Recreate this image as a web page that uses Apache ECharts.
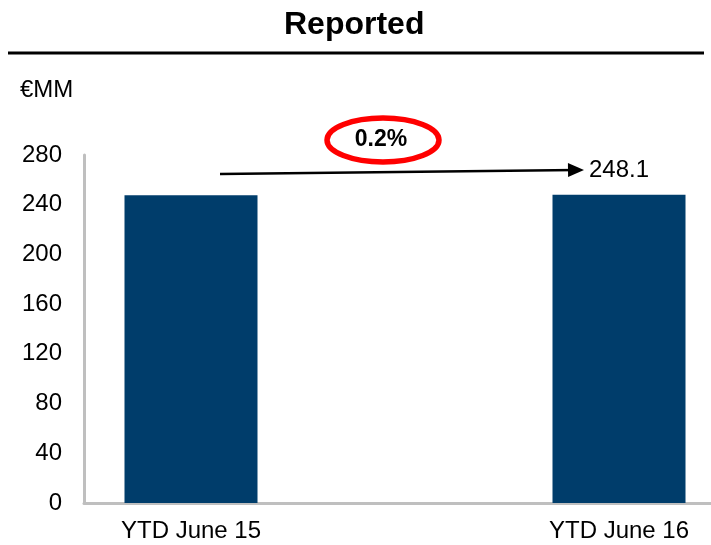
<!DOCTYPE html>
<html>
<head>
<meta charset="utf-8">
<script src="https://cdn.jsdelivr.net/npm/echarts@6/dist/echarts.min.js"></script>
<style>
  html, body { margin: 0; padding: 0; background: #fff; }
  #main { width: 711px; height: 545px; }
</style>
</head>
<body>
<div id="main"></div>
<script>
// 数据
var categories = ['YTD June 15', '', 'YTD June 16'];
var values = [247.6, null, 248.1];
var showLabel = [false, false, true];
var yTicks = { min: 0, max: 280, interval: 40 };
var changeText = '0.2%';
var unitText = '€MM';
var titleText = 'Reported';

var FONT = '"Liberation Sans", Arial, sans-serif';
var myChart = echarts.init(document.getElementById('main'));

var barData = values.map(function (v, i) {
    return {
        value: v,
        label: { show: showLabel[i] }
    };
});

var option = {
    animation: false,
    backgroundColor: '#fff',
    title: {
        text: titleText,
        left: 279,
        top: 4,
        textStyle: { fontFamily: FONT, fontSize: 32, fontWeight: 'bold', color: '#000' }
    },
    // 绘图区向右超出画布，柱子位置与原图一致
    grid: { left: 84, width: 642, top: 155, bottom: 42, outerBoundsMode: 'none', containLabel: false },
    xAxis: {
        type: 'category',
        data: categories,
        axisLine: { lineStyle: { color: '#bfbfbf', width: 3 } },
        axisTick: { show: false },
        axisLabel: { fontFamily: FONT, fontSize: 24, color: '#000', margin: 16, interval: 0 }
    },
    yAxis: {
        type: 'value',
        min: yTicks.min,
        max: yTicks.max,
        interval: yTicks.interval,
        splitLine: { show: false },
        axisTick: { show: false },
        axisLine: { show: true, lineStyle: { color: '#bfbfbf', width: 3 } },
        axisLabel: { fontFamily: FONT, fontSize: 24, color: '#000', margin: 22 }
    },
    series: [{
        type: 'bar',
        data: barData,
        barWidth: 133,
        itemStyle: { color: '#003d6b' },
        label: {
            show: false,
            position: 'top',
            distance: 12,
            fontFamily: FONT,
            fontSize: 24,
            color: '#000',
            formatter: function (p) { return p.value.toFixed(1); }
        },
        markLine: {
            silent: true,
            symbol: ['none', 'triangle'],
            symbolSize: [14, 16],
            label: { show: false },
            lineStyle: { color: '#000', width: 2.5, type: 'solid' },
            data: [[{ x: 220, y: 174 }, { x: 576, y: 170 }]]
        }
    }],
    graphic: [
        {
            type: 'line',
            shape: { x1: 8, y1: 53, x2: 704, y2: 53 },
            style: { stroke: '#000', lineWidth: 3 }
        },
        {
            type: 'text',
            left: 20,
            top: 78,
            style: { text: unitText, font: '24px ' + FONT, fill: '#000' }
        },
        {
            type: 'ellipse',
            shape: { cx: 383, cy: 140, rx: 56, ry: 22 },
            style: { stroke: '#ff0000', lineWidth: 5.5, fill: '#fff' }
        },
        {
            type: 'text',
            x: 381,
            y: 140,
            style: {
                text: changeText,
                font: 'bold 23px ' + FONT,
                fill: '#000',
                align: 'center',
                verticalAlign: 'middle'
            }
        }
    ]
};

myChart.setOption(option);
</script>
</body>
</html>
